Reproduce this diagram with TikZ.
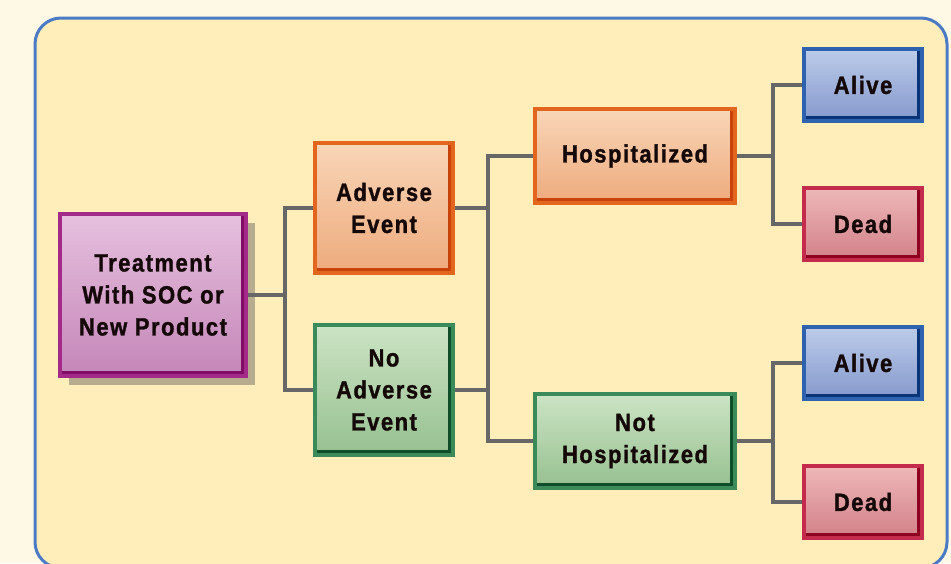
\documentclass[tikz,border=0pt]{standalone}
\usepackage{fontspec}
\setmainfont{Liberation Sans}[FakeStretch=0.88,LetterSpace=6,BoldFeatures={FakeBold=1.2}]
\usetikzlibrary{shadows}

\definecolor{pagecream}{HTML}{FEF9E4}
\definecolor{panelfill}{HTML}{FFEDBA}
\definecolor{panelblue}{HTML}{4A7BC4}
\definecolor{linkgray}{HTML}{676767}
\definecolor{textdark}{HTML}{140808}
\definecolor{pinkedge}{HTML}{A42A8A}
\definecolor{pinkdeep}{HTML}{800C66}
\definecolor{pinktop}{HTML}{E6C0DE}
\definecolor{pinkmid}{HTML}{D6A0CA}
\definecolor{pinkbot}{HTML}{C486B8}
\definecolor{orangeedge}{HTML}{E2661E}
\definecolor{orangedeep}{HTML}{C8420A}
\definecolor{orangetop}{HTML}{F8D6B8}
\definecolor{orangemid}{HTML}{F4C29A}
\definecolor{orangebot}{HTML}{EEAA7C}
\definecolor{greenedge}{HTML}{3A8A5A}
\definecolor{greendeep}{HTML}{0E4E2A}
\definecolor{greentop}{HTML}{CCE4C4}
\definecolor{greenmid}{HTML}{AED1A6}
\definecolor{greenbot}{HTML}{96C090}
\definecolor{blueedge}{HTML}{2E62AE}
\definecolor{bluedeep}{HTML}{0A3478}
\definecolor{bluetop}{HTML}{BCCCEA}
\definecolor{bluemid}{HTML}{9CB0DC}
\definecolor{bluebot}{HTML}{8498CC}
\definecolor{rededge}{HTML}{C42A4C}
\definecolor{reddeep}{HTML}{8E0020}
\definecolor{redtop}{HTML}{EEB8B8}
\definecolor{redmid}{HTML}{E09C9E}
\definecolor{redbot}{HTML}{D28088}

\begin{document}
\begin{tikzpicture}[x=1pt,y=-1pt,
  box/.style={rectangle,line width=4pt,align=center,inner sep=0pt,
    text=textdark,font=\bfseries\fontsize{25}{32}\selectfont,
    path picture={\draw[line width=10pt,#1]
      (path picture bounding box.south west) -- (path picture bounding box.south east)
      -- (path picture bounding box.north east);}},
  pinkbox/.style={box=pinkdeep,draw=pinkedge,top color=pinktop,middle color=pinkmid,bottom color=pinkbot},
  orangebox/.style={box=orangedeep,draw=orangeedge,top color=orangetop,middle color=orangemid,bottom color=orangebot},
  greenbox/.style={box=greendeep,draw=greenedge,top color=greentop,middle color=greenmid,bottom color=greenbot},
  bluebox/.style={box=bluedeep,draw=blueedge,top color=bluetop,middle color=bluemid,bottom color=bluebot},
  redbox/.style={box=reddeep,draw=rededge,top color=redtop,middle color=redmid,bottom color=redbot},
  link/.style={draw=linkgray,line width=4pt}]

\useasboundingbox (0,0) rectangle (951,563);
\fill[pagecream] (0,0) rectangle (951,563);
\draw[panelblue,fill=panelfill,line width=3pt,rounded corners=26] (35,18) rectangle (947,568);

% first split
\node[pinkbox,minimum width=186,minimum height=162,
  drop shadow={shadow xshift=9pt,shadow yshift=-9pt,opacity=0.4,fill=black!70}]
  (treat) at (153,295) {Treatment\\With SOC or\\New Product};
\node[orangebox,minimum width=138,minimum height=130] (adv) at (384,208) {Adverse\\Event};
\node[greenbox,minimum width=138,minimum height=130] (noadv) at (384,390) {No\\Adverse\\Event};

% second split
\node[orangebox,minimum width=200,minimum height=94] (hosp) at (635,156) {Hospitalized};
\node[greenbox,minimum width=200,minimum height=94] (nothosp) at (635,441) {Not\\Hospitalized};

% outcomes
\node[bluebox,minimum width=118,minimum height=72] (alive1) at (863,85) {Alive};
\node[redbox,minimum width=118,minimum height=72] (dead1) at (863,224) {Dead};
\node[bluebox,minimum width=118,minimum height=72] (alive2) at (863,363) {Alive};
\node[redbox,minimum width=118,minimum height=72] (dead2) at (863,502) {Dead};

\draw[link] (treat.east) -- ++(37,0) |- (adv.west);
\draw[link] (treat.east) -- ++(37,0) |- (noadv.west);

\draw[link] (adv.east) -- ++(33,0) |- (hosp.west);
\draw[link] (adv.east) -- ++(33,0) |- (nothosp.west);
\draw[link] (noadv.east) -- ++(33,0);

\draw[link] (hosp.east) -- ++(36,0) |- (alive1.west);
\draw[link] (hosp.east) -- ++(36,0) |- (dead1.west);
\draw[link] (nothosp.east) -- ++(36,0) |- (alive2.west);
\draw[link] (nothosp.east) -- ++(36,0) |- (dead2.west);
\end{tikzpicture}
\end{document}
